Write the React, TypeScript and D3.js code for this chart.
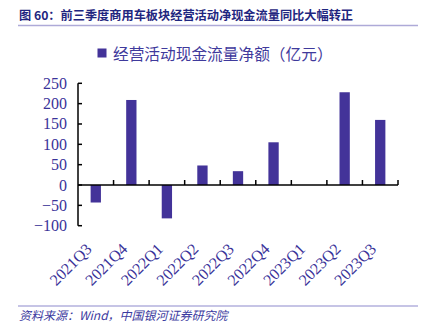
import React from "react";
import * as d3 from "d3";

const categories = ["2021Q3", "2021Q4", "2022Q1", "2022Q2", "2022Q3", "2022Q4", "2023Q1", "2023Q2", "2023Q3"];
const values: (number | null)[] = [-43, 209, -82, 48, 34, 105, null, 228, 160];
const yTicks = [250, 200, 150, 100, 50, 0, -50, -100];
const titleText = "图 60：前三季度商用车板块经营活动净现金流量同比大幅转正";
const legendText = "经营活动现金流量净额（亿元）";
const sourceText = "资料来源：Wind，中国银河证券研究院";

export default function App() {
  const W = 430, H = 327;
  const x0 = 78, x1 = 398;
  const y = d3.scaleLinear().domain([-100, 250]).range([225.7, 83.3]);
  const x = d3.scaleBand<string>().domain(categories).range([x0, x1]);
  const bw = x.bandwidth() * 0.29;
  const zeroY = y(0);
  const tickColor = "#3a3399";
  const serif = "'Liberation Serif', 'DejaVu Serif', serif";
  const cjk = "'Noto Sans CJK SC', sans-serif";
  const fmt = (v: number) => (v < 0 ? "\u2212" + Math.abs(v) : String(v));

  return (
    <svg width={W} height={H} style={{ position: "absolute", left: 0, top: 0, background: "#fff" }}>
      <text x={19} y={20} fontFamily={cjk} fontWeight="bold" fontSize={12.2} fill="#1f2680">{titleText}</text>
      <line x1={18} x2={418} y1={25.5} y2={25.5} stroke="#aeaad8" strokeWidth={1.5} />

      <rect x={97.5} y={48.5} width={9} height={9} fill="#433399" />
      <text x={113} y={53.5} dominantBaseline="central" fontFamily={cjk} fontSize={15.7} fill="#3f3a9c">{legendText}</text>

      {categories.map((c, i) => {
        const v = values[i];
        if (v === null || v === undefined) return null;
        const cx = (x(c) as number) + x.bandwidth() / 2;
        const top = Math.min(y(v), zeroY);
        const h = Math.abs(y(v) - zeroY);
        return <rect key={c} x={cx - bw / 2} y={top} width={bw} height={h} fill="#433399" />;
      })}

      {/* y axis */}
      <line x1={x0} x2={x0} y1={y(250)} y2={y(-100)} stroke="#000" strokeWidth={1.5} />
      {yTicks.map((t) => (
        <g key={t}>
          <line x1={x0} x2={x0 + 4} y1={y(t)} y2={y(t)} stroke="#000" strokeWidth={1.5} />
          <text x={67} y={y(t)} textAnchor="end" dominantBaseline="central" fontFamily={serif} fontSize={16} fill={tickColor}>{fmt(t)}</text>
        </g>
      ))}

      {/* x axis at zero */}
      <line x1={x0} x2={x1} y1={zeroY} y2={zeroY} stroke="#000" strokeWidth={1.5} />
      {categories.map((c) => (
        <line key={"t" + c} x1={(x(c) as number) + x.bandwidth()} x2={(x(c) as number) + x.bandwidth()} y1={zeroY} y2={zeroY - 5} stroke="#000" strokeWidth={1.5} />
      ))}
      {categories.map((c) => {
        const cx = (x(c) as number) + x.bandwidth() / 2;
        const ty = 250;
        return (
          <text key={"l" + c} x={cx - 3} y={ty} textAnchor="end" fontFamily={serif} fontSize={16} fill={tickColor} transform={`rotate(-45 ${cx - 3} ${ty})`}>{c}</text>
        );
      })}

      <line x1={18} x2={418} y1={306} y2={306} stroke="#8d89cc" strokeWidth={1} />
      <text x={19} y={320} fontFamily={cjk} fontStyle="italic" fontSize={12} fill="#3b3aa0">{sourceText}</text>
    </svg>
  );
}
